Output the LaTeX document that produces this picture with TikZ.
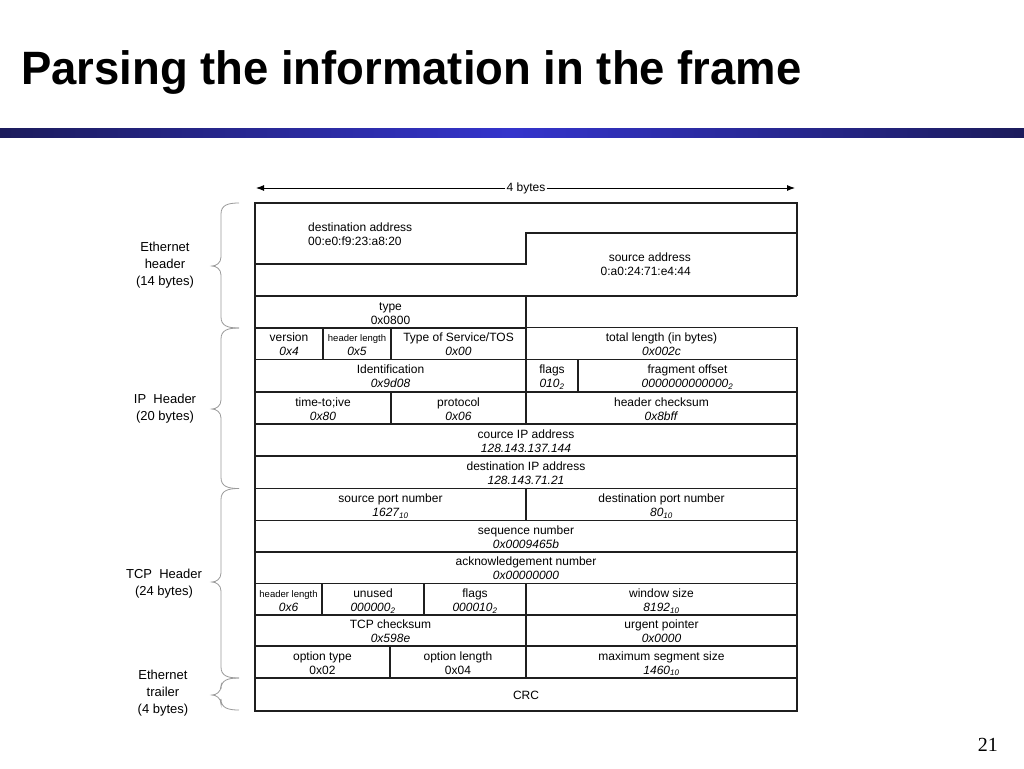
\documentclass[tikz,border=0pt]{standalone}
\usepackage{fontspec}
\setmainfont{Liberation Sans}
\newfontfamily\serifnum{Liberation Serif}
\usetikzlibrary{arrows.meta}
\definecolor{navyD}{RGB}{28,28,92}
\definecolor{blueM}{RGB}{52,52,204}
\newcommand\subs[1]{\textsubscript{#1}}
\newcommand\tinyt[1]{{\fontsize{9.5}{11}\selectfont #1}}
\newcommand\fcell[6]{\node[cell, minimum width={(#3)-(#2)}, minimum height={(#5)-(#4)}] (#1) at ({((#2)+(#3))/2},{((#4)+(#5))/2}) {\rule{0pt}{14pt}#6\rule[-4pt]{0pt}{4pt}};}
\newcommand\fbrace[3]{\draw[bracestyle] (239,#1) .. controls (228,#1) and (221,#1+2) .. (221,#1+11) -- (221,#3-9) .. controls (221,#3-3) and (216,#3) .. (212,#3) .. controls (216,#3) and (221,#3+3) .. (221,#3+9) -- (221,#2-11) .. controls (221,#2-2) and (228,#2) .. (239,#2);}
\begin{document}
\begin{tikzpicture}[x=1pt,y=-1pt,
  cell/.style={draw=black!88, line width=1.2pt, inner sep=0pt, align=center, font=\fontsize{12}{14}\selectfont},
  outline/.style={draw=black!88, line width=1.2pt},
  lbl/.style={align=center, font=\fontsize{13}{17}\selectfont},
  bracestyle/.style={draw=black!40, line width=0.8pt},
  txt/.style={font=\fontsize{12}{14}\selectfont, inner sep=0pt}
]
\useasboundingbox (0,0) rectangle (1024,768);
% title and bar
\node[anchor=base west, inner sep=0pt, font=\fontsize{45}{50}\selectfont\bfseries] (title) at (21,84) {\scalebox{1.01}[1.04]{Parsing the information in the frame}};
\shade[left color=navyD, right color=blueM] (0,128) rectangle (512,137);
\shade[left color=blueM, right color=navyD] (512,128) rectangle (1024,137);
\node[anchor=base east, inner sep=0pt, font=\serifnum\fontsize{20}{24}\selectfont] (pg) at (998,751) {21};
% width arrow
\coordinate (aL) at (256,188);
\coordinate (aR) at (795,188);
\node[txt, fill=white, inner xsep=1pt] (bytes) at (526,188) {4 bytes};
\draw[line width=0.9pt, -{Latex[length=8pt,width=6pt]}] (bytes) -- (aL);
\draw[line width=0.9pt, -{Latex[length=8pt,width=6pt]}] (bytes) -- (aR);
% Ethernet header
\draw[outline] (255,328) -- (255,203) -- (797,203) -- (797,296);
\draw[outline] (255,296) -- (797,296);
\draw[outline] (255,264) -- (526,264) -- (526,233) -- (797,233);
\node[txt, anchor=west, align=left] (dst) at (308,234) {destination address\\00:e0:f9:23:a8:20};
\node[txt, anchor=east, align=right] (src) at (691,264) {source address\\0:a0:24:71:e4:44};
\fcell{type}{255}{526}{296}{328}{type\\0x0800}
% IP header
\fcell{ver}{255}{323}{328}{359.5}{version\\\textit{0x4}}
\fcell{ihl}{323}{391}{328}{359.5}{\tinyt{header length}\\\textit{0x5}}
\fcell{tos}{391}{526}{328}{359.5}{Type of Service/TOS\\\textit{0x00}}
\fcell{tlen}{526}{797}{328}{359.5}{total length (in bytes)\\\textit{0x002c}}
\fcell{ident}{255}{526}{359.5}{392}{Identification\\\textit{0x9d08}}
\fcell{ipflags}{526}{578}{359.5}{392}{flags\\\textit{010\subs{2}}}
\fcell{frag}{578}{797}{359.5}{392}{fragment offset\\\textit{0000000000000\subs{2}}}
\fcell{ttl}{255}{391}{392}{424}{time-to;ive\\\textit{0x80}}
\fcell{proto}{391}{526}{392}{424}{protocol\\\textit{0x06}}
\fcell{hcs}{526}{797}{392}{424}{header checksum\\\textit{0x8bff}}
\fcell{srcip}{255}{797}{424}{456}{cource IP address\\\textit{128.143.137.144}}
\fcell{dstip}{255}{797}{456}{488.5}{destination IP address\\\textit{128.143.71.21}}
% TCP header
\fcell{sport}{255}{526}{488.5}{520.5}{source port number\\\textit{1627\subs{10}}}
\fcell{dport}{526}{797}{488.5}{520.5}{destination port number\\\textit{80\subs{10}}}
\fcell{seq}{255}{797}{520.5}{552}{sequence number\\\textit{0x0009465b}}
\fcell{ack}{255}{797}{552}{583.5}{acknowledgement number\\\textit{0x00000000}}
\fcell{thl}{255}{322}{583.5}{615}{\tinyt{header length}\\\textit{0x6}}
\fcell{unused}{322}{424}{583.5}{615}{unused\\\textit{000000\subs{2}}}
\fcell{tflags}{424}{526}{583.5}{615}{flags\\\textit{000010\subs{2}}}
\fcell{win}{526}{797}{583.5}{615}{window size\\\textit{8192\subs{10}}}
\fcell{tcs}{255}{526}{615}{646}{TCP checksum\\\textit{0x598e}}
\fcell{urg}{526}{797}{615}{646}{urgent pointer\\\textit{0x0000}}
\fcell{otype}{255}{390}{646}{678}{option type\\0x02}
\fcell{olen}{390}{526}{646}{678}{option length\\0x04}
\fcell{mss}{526}{797}{646}{678}{maximum segment size\\\textit{1460\subs{10}}}
% trailer
\fcell{crc}{255}{797}{678}{711}{CRC}
% side labels
\node[lbl] (lethh) at (165,265) {Ethernet\\header\\(14 bytes)};
\node[lbl] (liph) at (165,408.5) {IP\ \ Header\\(20 bytes)};
\node[lbl] (ltcph) at (164,583.5) {TCP\ \ Header\\(24 bytes)};
\node[lbl] (letht) at (163,693) {Ethernet\\trailer\\(4 bytes)};
% braces
\fbrace{203}{328}{266}
\fbrace{328}{488.5}{409}
\fbrace{488.5}{678}{582}
\fbrace{678}{710}{695}
\end{tikzpicture}
\end{document}
